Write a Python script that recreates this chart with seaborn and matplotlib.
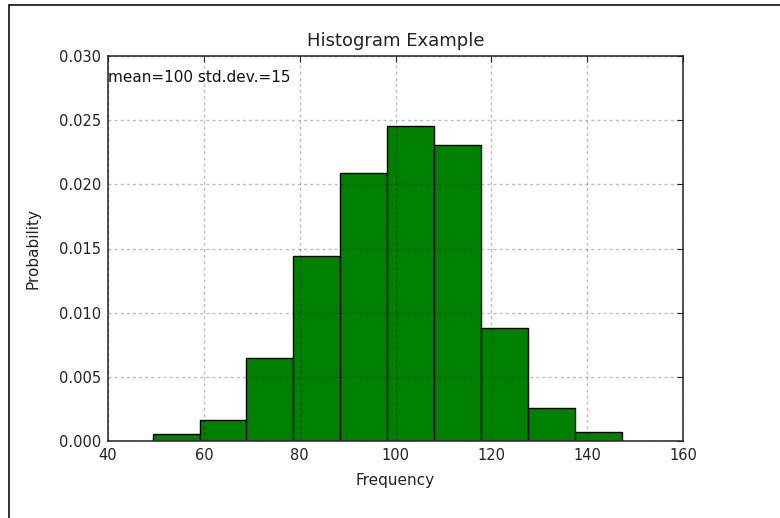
import matplotlib
matplotlib.use("Agg")
import matplotlib.pyplot as plt
import numpy as np
import seaborn as sns
from matplotlib.lines import Line2D

# bin edges and heights
bin_edges = [49.3, 59.1, 68.9, 78.7, 88.5, 98.3, 108.1, 117.9, 127.7, 137.5, 147.3]
probability = [0.00052, 0.00164, 0.00644, 0.01440, 0.02091,
               0.02455, 0.02307, 0.00878, 0.00255, 0.00068]
bin_centers = [(a + b) / 2 for a, b in zip(bin_edges[:-1], bin_edges[1:])]

sns.set_style("white")
plt.rcParams["font.family"] = ["DejaVu Sans"]
plt.rcParams["font.size"] = 10.5

fig = plt.figure(figsize=(7.8, 5.18), dpi=100)
ax = fig.add_axes([108 / 780, 1 - 441 / 518, 575 / 780, 385 / 518])

sns.histplot(x=bin_centers, weights=probability, bins=bin_edges, stat="count",
             color="#008000", edgecolor="black", linewidth=1.0, alpha=1.0, ax=ax)

ax.set_xlim(40, 160)
ax.set_ylim(0, 0.030)
ax.set_xticks([40, 60, 80, 100, 120, 140, 160])
ax.set_yticks([0.000, 0.005, 0.010, 0.015, 0.020, 0.025, 0.030])
ax.yaxis.set_major_formatter(matplotlib.ticker.FormatStrFormatter("%.3f"))
ax.tick_params(direction="in", top=True, right=True, length=4, width=0.8,
               labelsize=10.5, colors="#222222", pad=5)
for s in ax.spines.values():
    s.set_color("#333333")
    s.set_linewidth(1.2)

ax.set_axisbelow(False)
ax.grid(True, color="black", alpha=0.25, linestyle=(0, (2.2, 2.2)), linewidth=1.0)

ax.set_title("Histogram Example", fontsize=13, color="#222222", pad=7)
ax.set_xlabel("Frequency", fontsize=11, color="#222222", labelpad=7)
ax.set_ylabel("Probability", fontsize=11, color="#222222", labelpad=13)
ax.text(40, 0.028, "mean=100 std.dev.=15", fontsize=11, color="#111111")

# screenshot frame lines
fig.add_artist(Line2D([9 / 780, 9 / 780], [0, 1 - 5 / 518], transform=fig.transFigure,
                      color="#222222", linewidth=1.3))
fig.add_artist(Line2D([9 / 780, 1], [1 - 5 / 518, 1 - 5 / 518], transform=fig.transFigure,
                      color="#222222", linewidth=1.3))

fig.savefig("out.png", dpi=100)
